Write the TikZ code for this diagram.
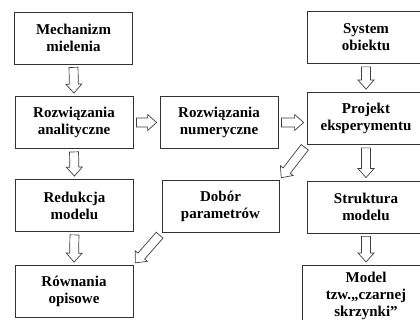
\documentclass[tikz,border=0pt]{standalone}
\usepackage{fontspec}
\setmainfont{Liberation Serif}
\usepackage{tikz}
\usetikzlibrary{calc}

\tikzset{
	box/.style={draw=black!80, line width=0.8pt, minimum width=118pt, minimum height=52pt,
		align=center, inner sep=2pt, font=\bfseries\fontsize{15}{17}\selectfont},
	blockarrow/.style={draw=black!75, line width=0.7pt, fill=white, line join=miter}
}

% hollow block arrow from #1 to #2
\newcommand{\hollowarrow}[2]{%
	\coordinate (ha-s) at ($(#1)!3pt!(#2)$);
	\coordinate (ha-t) at ($(#2)!3pt!(#1)$);
	\coordinate (ha-b) at ($(ha-t)!9pt!(ha-s)$);
	\draw[blockarrow] ($(ha-s)!4.5pt!-90:(ha-t)$) -- ($(ha-b)!4.5pt!90:(ha-s)$)
		-- ($(ha-b)!8pt!90:(ha-s)$) -- (ha-t) -- ($(ha-b)!8pt!-90:(ha-s)$)
		-- ($(ha-b)!4.5pt!-90:(ha-s)$) -- ($(ha-s)!4.5pt!90:(ha-t)$) -- cycle;
}

\begin{document}
\begin{tikzpicture}[x=1pt, y=-1pt]
			% Frame of the picture
			\useasboundingbox (0,0) rectangle (420,320);
			\clip (0,0) rectangle (420,320);
			
			% Left column
			\node[box] (mech) at (73.5,38) {Mechanizm\\mielenia};
			\node[box] (anal) at (74,122.5) {Rozwiązania\\analityczne};
			\node[box] (red) at (74.5,205.5) {Redukcja\\modelu};
			\node[box] (row) at (74,291.5) {Równania\\opisowe};
			
			% Middle column
			\node[box] (num) at (219,122.5) {Rozwiązania\\numeryczne};
			\node[box, minimum width=117pt] (dob) at (220.5,206.5) {Dobór\\parametrów};
			
			% Right column (cut by the frame)
			\node[box] (sys) at (366,37.5) {System\\obiektu};
			\node[box] (proj) at (366,118.5) {Projekt\\eksperymentu};
			\node[box] (str) at (366,207) {Struktura\\modelu};
			\node[box, anchor=north, minimum width=128pt, minimum height=62pt] (model) at (366,265) {Model\\tzw.„czarnej\\skrzynki”};
			
			% Arrows
			\hollowarrow{mech.south}{anal.north}
			\hollowarrow{anal.south}{red.north}
			\hollowarrow{red.south}{row.north}
			\hollowarrow{anal.east}{num.west}
			\coordinate (proj-in) at (num.east -| proj.west);
			\hollowarrow{num.east}{proj-in}
			\hollowarrow{sys.south}{proj.north}
			\hollowarrow{proj.south}{str.north}
			\hollowarrow{str.south}{model.north}
			\hollowarrow{proj.south west}{dob.north east}
			\hollowarrow{dob.south west}{row.north east}
			
		\end{tikzpicture}
\end{document}
